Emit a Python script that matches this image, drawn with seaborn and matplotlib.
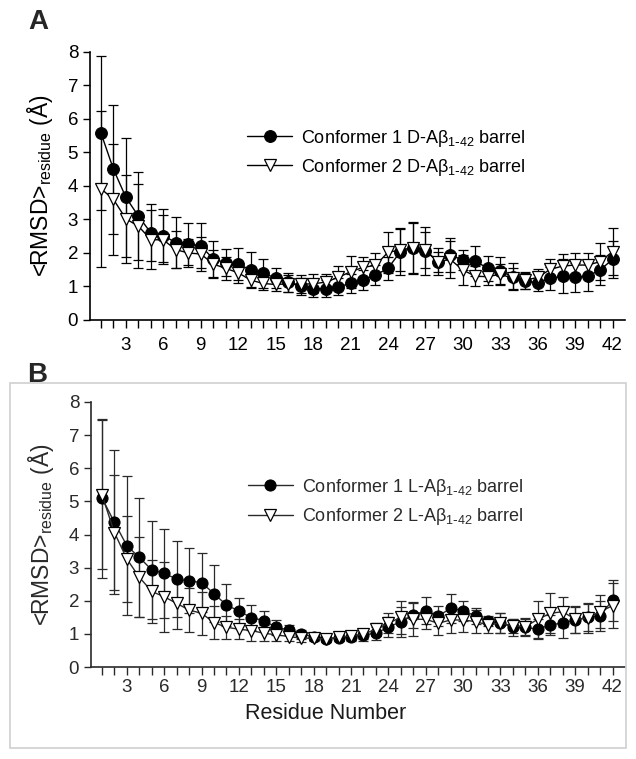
import matplotlib
matplotlib.use("Agg")
import matplotlib.pyplot as plt
import seaborn as sns
from matplotlib.patches import Rectangle

# ---------------------------
# DATA
# ---------------------------
residues = list(range(1, 43))

# panel A: D-Abeta barrel
a_conf1 = [5.58, 4.50, 3.66, 3.10, 2.60, 2.52, 2.31, 2.27, 2.22, 1.82,
           1.71, 1.66, 1.50, 1.39, 1.26, 1.13, 1.00, 0.93, 0.94, 0.99,
           1.09, 1.19, 1.34, 1.54, 2.04, 2.14, 2.07, 1.74, 1.94, 1.79,
           1.76, 1.54, 1.46, 1.29, 1.17, 1.11, 1.24, 1.31, 1.27, 1.31,
           1.49, 1.81]
a_conf1_err = [2.30, 1.92, 1.78, 1.32, 0.85, 0.78, 0.76, 0.63, 0.68, 0.55,
               0.40, 0.48, 0.52, 0.44, 0.30, 0.28, 0.25, 0.25, 0.25, 0.25,
               0.28, 0.30, 0.30, 0.35, 0.70, 0.78, 0.72, 0.40, 0.50, 0.30,
               0.46, 0.37, 0.43, 0.40, 0.24, 0.25, 0.35, 0.50, 0.43, 0.45,
               0.45, 0.55]
a_conf2 = [3.92, 3.60, 3.02, 2.80, 2.40, 2.39, 2.10, 2.00, 1.97, 1.67,
           1.54, 1.41, 1.19, 1.09, 1.06, 1.08, 1.07, 1.08, 1.13, 1.27,
           1.44, 1.57, 1.63, 2.02, 2.09, 2.16, 2.09, 1.74, 1.81, 1.49,
           1.31, 1.29, 1.37, 1.24, 1.19, 1.27, 1.51, 1.61, 1.64, 1.64,
           1.74, 2.04]
a_conf2_err = [2.33, 1.65, 1.32, 1.25, 0.88, 0.73, 0.55, 0.42, 0.50, 0.42,
               0.35, 0.30, 0.22, 0.20, 0.20, 0.25, 0.27, 0.28, 0.25, 0.33,
               0.48, 0.30, 0.38, 0.62, 0.62, 0.75, 0.55, 0.30, 0.55, 0.45,
               0.30, 0.25, 0.30, 0.30, 0.25, 0.25, 0.30, 0.35, 0.35, 0.35,
               0.55, 0.70]

# panel B: L-Abeta barrel
b_conf1 = [5.10, 4.37, 3.66, 3.31, 2.93, 2.83, 2.65, 2.60, 2.55, 2.21,
           1.87, 1.69, 1.49, 1.40, 1.20, 1.12, 0.99, 0.92, 0.85, 0.89,
           0.92, 0.97, 1.02, 1.20, 1.37, 1.57, 1.70, 1.54, 1.77, 1.70,
           1.54, 1.39, 1.33, 1.20, 1.20, 1.14, 1.27, 1.33, 1.42, 1.50,
           1.54, 2.02]
b_conf1_err = [2.40, 2.17, 2.10, 1.80, 1.48, 1.35, 1.15, 0.98, 0.88, 0.86,
               0.63, 0.40, 0.38, 0.29, 0.22, 0.15, 0.13, 0.10, 0.10, 0.10,
               0.15, 0.18, 0.20, 0.30, 0.45, 0.40, 0.40, 0.31, 0.43, 0.30,
               0.23, 0.15, 0.30, 0.25, 0.25, 0.30, 0.30, 0.45, 0.40, 0.40,
               0.45, 0.62]
b_conf2 = [5.20, 4.06, 3.26, 2.71, 2.28, 2.12, 1.92, 1.72, 1.62, 1.34,
           1.20, 1.14, 1.10, 1.02, 0.97, 0.92, 0.87, 0.87, 0.84, 0.90,
           0.94, 0.99, 1.14, 1.32, 1.50, 1.44, 1.44, 1.32, 1.42, 1.42,
           1.37, 1.27, 1.33, 1.24, 1.22, 1.44, 1.62, 1.67, 1.44, 1.47,
           1.67, 1.85]
b_conf2_err = [2.25, 1.75, 1.31, 1.20, 0.95, 1.05, 0.78, 0.65, 0.65, 0.50,
               0.35, 0.30, 0.30, 0.25, 0.20, 0.15, 0.13, 0.10, 0.10, 0.10,
               0.12, 0.15, 0.20, 0.30, 0.50, 0.50, 0.30, 0.35, 0.40, 0.35,
               0.35, 0.25, 0.30, 0.20, 0.25, 0.56, 0.60, 0.45, 0.40, 0.45,
               0.50, 0.68]

tick_labels = [str(r) if r % 3 == 0 else "" for r in residues]

# ---------------------------
# STYLE
# ---------------------------
sns.set_style("ticks")
plt.rcParams["font.family"] = ["Liberation Sans", "DejaVu Sans"]
plt.rcParams["mathtext.default"] = "regular"

fig = plt.figure(figsize=(6.36, 7.59), dpi=100)

# light frame around panel B
fig.patches.append(Rectangle((10 / 636, 1 - 748 / 759), 616 / 636, 365 / 759,
                             transform=fig.transFigure, fill=False,
                             edgecolor="#d0d0d0", linewidth=1.2))

ax_a = fig.add_axes([90 / 636, 1 - 320 / 759, 535 / 636, 268 / 759])
ax_b = fig.add_axes([91 / 636, 1 - 667 / 759, 534 / 636, 265 / 759])


def draw_panel(ax, c1, e1, c2, e2, tag, col, msize, xpad):
    ax.errorbar(residues, c1, yerr=e1, fmt="none", ecolor=col,
                elinewidth=0.9, capsize=3.4, capthick=0.9, zorder=2)
    ax.errorbar(residues, c2, yerr=e2, fmt="none", ecolor=col,
                elinewidth=0.9, capsize=3.4, capthick=0.9, zorder=2)
    sns.lineplot(x=residues, y=c1, ax=ax, color=col, linewidth=1.0,
                 marker="o", markersize=msize, markerfacecolor="black",
                 markeredgecolor="black",
                 label="Conformer 1 " + tag + r"-A$\beta_{1\text{-}42}$ barrel", zorder=3)
    sns.lineplot(x=residues, y=c2, ax=ax, color=col, linewidth=1.0,
                 marker="v", markersize=msize + 0.5, markerfacecolor="white",
                 markeredgecolor="black", markeredgewidth=0.9,
                 label="Conformer 2 " + tag + r"-A$\beta_{1\text{-}42}$ barrel", zorder=4)

    ax.set_xlim(0.12, 43)
    ax.set_ylim(0, 8)
    ax.set_xticks(residues)
    ax.set_xticklabels(tick_labels)
    ax.set_yticks(range(0, 9))
    ax.tick_params(axis="both", direction="out", length=5, width=1.0,
                   colors=col, labelsize=13.5, labelcolor=col)
    ax.tick_params(axis="x", length=6, pad=xpad)
    for s in ["top", "right"]:
        ax.spines[s].set_visible(False)
    for s in ["left", "bottom"]:
        ax.spines[s].set_color(col)
        ax.spines[s].set_linewidth(1.2)
    ax.set_ylabel(r"<RMSD>$_{residue}$ (Å)", fontsize=16.5, color=col, labelpad=9)
    ax.set_xlabel("")
    leg = ax.legend(loc="upper left", bbox_to_anchor=(0.28, 0.745), frameon=False,
                    fontsize=13, handlelength=2.5, handletextpad=0.5,
                    labelspacing=0.45, borderaxespad=0)
    for t in leg.get_texts():
        t.set_color(col)


draw_panel(ax_a, a_conf1, a_conf1_err, a_conf2, a_conf2_err, "D", "black", 8.5, 6)
draw_panel(ax_b, b_conf1, b_conf1_err, b_conf2, b_conf2_err, "L", "#2a2a2a", 8, 3)

ax_b.set_xlabel("Residue Number", fontsize=15.5, color="#1a1a1a")
ax_b.xaxis.set_label_coords(0.44, -0.135)

fig.text(28 / 636, 1 - 22 / 759, "A", fontsize=20, fontweight="bold", va="center")
fig.text(27 / 636, 1 - 375 / 759, "B", fontsize=20, fontweight="bold", va="center")

plt.savefig("out.png", dpi=100)
